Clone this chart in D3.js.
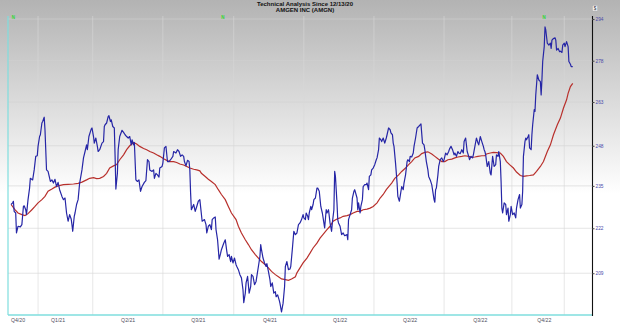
<!DOCTYPE html>
<html>
<head>
<meta charset="utf-8">
<script src="https://d3js.org/d3.v7.min.js"></script>
<style>
body { margin: 0; background: #fff; }
svg { display: block; }
</style>
</head>
<body>
<div id="chart"></div>
<script>
var titleLines = ["Technical Analysis Since 12/13/20", "AMGEN INC (AMGN)"];
var startDate = "2020-12-13";

// daily close, calendar days after 12/13/20
var closeDays = [4,6,7,8,10,11,13,16,18,20,21,23,24,26,28,29,32,34,36,38,39,41,42,44,45,47,48,49,50,52,55,57,59,61,63,65,67,70,72,74,76,78,80,82,83,84,86,87,89,91,93,96,98,100,102,103,105,108,109,111,112,114,116,117,119,122,124,125,126,128,130,131,133,134,136,138,139,140,142,143,145,148,150,152,154,156,158,160,161,163,164,166,168,170,172,174,177,179,181,183,184,187,189,190,192,194,196,197,200,201,203,205,207,209,211,214,215,218,220,222,224,226,228,229,231,233,235,236,237,238,241,243,245,247,249,252,255,257,258,260,262,264,265,267,269,270,272,274,276,277,280,282,284,285,287,289,290,292,294,296,297,299,301,303,305,306,308,309,311,313,315,316,318,320,322,323,325,327,328,329,331,333,335,336,338,340,341,343,345,347,348,350,352,353,355,357,359,360,362,364,366,367,369,371,373,375,377,379,381,383,384,386,387,389,390,391,393,394,396,397,399,401,402,404,406,408,409,411,413,414,416,418,420,421,423,424,425,427,428,429,431,433,435,437,440,441,442,444,446,447,449,450,453,454,455,457,458,460,461,463,465,466,468,469,471,472,474,476,478,479,481,482,484,485,487,489,491,492,494,496,497,499,500,501,503,505,506,508,509,511,513,514,516,518,519,521,522,524,526,527,529,531,533,534,536,538,540,541,543,545,546,548,550,551,553,554,555,556,558,559,561,563,565,566,568,570,572,573,575,577,579,580,582,584,585,587,589,591,592,594,596,598,599,601,603,604,606,608,610,611,613,615,617,618,619,620,622,624,626,627,629,631,633,634,636,637,639,640,641,642,644,646,647,649,650,652,653,655,657,659,660,662,664,665,667,668,669,671,672,673,675,676,677,679,680,681,683,684,685,687,689,691,692,693,694,696,697,698,700,702,704,705,706,708,710,711,712,714,716,717,719,720,722,723,725,727,728,730,731,733];
var closes = [229.2,229.7,230.2,227.1,226.6,220.6,222.6,222.4,223.1,228.6,228.8,227.6,226.1,230.7,234.3,237.4,236.9,240.1,244.5,244.7,247.8,251.1,251.7,255.7,256.2,257.7,253.4,246.7,240.1,239.6,236.4,236.9,235.9,237.1,234.8,236.1,233.8,231.7,230.7,231.2,226.6,224.1,226.1,224.8,223.1,221.1,225.6,226.6,229.2,230.7,235.9,240.1,244.0,246.1,248.3,246.7,251.1,253.6,254.0,251.1,248.9,250.6,247.8,246.1,246.7,248.9,249.4,254.5,255.1,255.7,257.9,258.2,256.2,256.8,254.5,254.0,244.5,234.0,239.0,246.7,251.1,253.2,252.5,251.7,251.1,250.6,251.1,248.3,250.0,248.3,249.1,236.9,236.4,236.9,233.3,234.8,236.1,236.7,243.4,242.8,240.1,239.6,240.1,237.4,239.0,238.5,237.8,240.7,241.2,242.3,247.3,247.8,242.8,242.8,243.4,244.5,246.1,245.6,246.7,246.1,244.5,245.0,244.5,242.8,241.4,243.2,242.8,240.1,232.8,227.6,229.2,227.1,228.6,230.2,230.7,224.1,224.6,223.1,220.6,222.6,223.1,221.6,224.6,225.1,225.4,221.6,218.6,213.0,214.7,215.7,217.6,218.6,215.2,213.8,214.3,212.3,213.8,211.9,213.3,211.4,210.9,210.0,208.6,207.7,204.4,200.9,203.5,206.3,208.1,203.5,205.3,208.6,208.1,205.8,206.7,208.1,210.9,213.8,217.2,215.7,213.3,211.9,210.9,211.7,209.5,207.2,205.3,206.3,203.5,203.9,202.5,203.0,201.6,200.7,198.4,200.7,205.3,210.9,212.3,210.0,210.2,210.9,215.7,221.1,220.1,220.6,223.1,223.6,224.6,226.1,225.1,224.6,226.6,225.6,224.6,226.6,228.6,227.6,229.2,230.7,231.2,234.3,234.3,233.3,228.6,226.6,225.1,222.1,227.6,226.6,227.6,223.6,221.1,223.6,227.6,239.6,238.0,229.7,224.6,223.6,222.6,220.1,220.6,219.8,220.1,218.6,224.6,226.1,227.6,231.2,233.3,233.8,231.2,227.6,229.7,226.6,228.6,230.7,234.8,235.4,235.4,235.9,233.8,238.0,238.5,240.1,240.7,241.8,243.4,244.0,246.7,250.6,250.0,249.4,250.6,248.9,250.6,251.7,254.0,253.4,252.3,251.7,248.9,247.8,242.3,235.9,231.7,230.2,231.7,234.8,233.8,235.9,238.5,242.8,243.4,242.8,244.5,244.3,245.6,247.8,250.6,254.0,254.5,254.8,255.4,248.9,248.3,246.7,242.8,240.1,238.0,236.9,235.4,233.8,230.7,229.9,233.8,234.3,238.5,241.2,243.4,244.0,242.8,243.4,245.6,245.0,246.1,246.9,247.8,246.7,245.0,245.6,244.5,246.1,245.6,245.4,246.7,245.6,249.4,250.6,246.1,244.5,243.4,244.5,244.0,245.0,247.8,250.6,248.9,248.3,251.1,249.4,247.8,246.7,246.1,245.0,241.2,242.8,239.0,238.5,244.5,241.2,241.8,245.0,244.5,246.1,242.8,236.4,228.1,226.6,229.7,229.2,226.1,228.1,224.1,226.1,228.6,226.1,226.6,225.1,228.1,230.7,232.3,228.1,229.2,233.3,244.5,249.4,250.6,250.0,251.1,251.7,247.3,246.7,251.7,255.1,260.3,259.7,265.5,272.8,270.9,270.3,265.5,270.9,277.7,283.3,290.9,289.7,284.6,283.9,284.6,282.6,285.8,286.4,286.7,285.8,282.0,282.6,281.4,281.6,281.1,283.9,284.6,283.3,285.2,283.3,277.7,276.7,275.8,275.8];

// moving average
var maDays = [4,9,13,18,22,26,31,35,39,44,48,52,57,61,65,72,78,85,91,96,102,106,111,115,119,124,128,132,137,141,145,150,154,158,163,167,171,176,180,184,189,193,197,202,206,210,215,219,223,228,232,236,241,245,249,251,256,260,264,269,273,277,282,286,290,296,299,303,308,312,316,321,325,329,334,338,342,347,351,355,360,364,368,373,375,379,383,388,392,396,401,405,409,414,418,422,427,431,435,440,444,448,453,457,461,466,470,474,479,483,487,491,495,498,502,507,511,516,520,524,528,533,537,541,545,550,554,558,563,567,571,576,580,584,589,593,598,602,606,610,615,619,621,626,630,634,639,643,647,651,656,660,665,669,673,677,682,686,691,695,700,704,708,713,717,721,725,727,730,733];
var maValues = [229.2,227.6,226.6,226.1,225.8,226.4,227.6,228.6,229.7,230.7,231.7,233.3,234.0,234.6,235.0,235.4,235.5,235.6,235.8,236.2,236.9,237.4,237.6,237.3,237.4,238.0,239.0,240.7,241.4,241.8,243.4,245.0,246.7,248.0,249.1,248.6,247.8,247.1,246.7,246.1,245.6,245.0,244.5,243.7,243.2,242.8,242.8,242.5,242.0,241.7,241.2,240.7,240.3,240.1,239.8,239.0,238.0,237.1,236.4,235.4,233.8,232.3,230.7,228.6,226.6,224.6,222.6,220.6,218.6,217.2,215.7,214.3,213.3,212.3,211.4,210.5,209.5,208.6,208.0,207.4,207.2,207.0,207.4,208.0,209.1,210.5,211.9,213.3,214.7,216.2,217.6,219.1,220.2,221.6,222.6,224.1,224.8,225.1,225.6,225.8,226.1,226.6,227.1,227.1,227.6,227.8,228.1,228.6,229.7,231.2,232.3,233.8,235.0,235.9,237.4,238.5,239.6,240.7,241.8,242.8,244.0,244.5,245.4,245.8,246.0,245.3,244.5,243.7,242.8,242.8,243.4,243.6,244.0,244.3,244.5,244.7,244.5,244.2,244.3,244.5,244.7,244.7,245.3,245.6,245.8,245.7,245.6,244.5,242.8,241.8,240.7,239.4,238.3,238.0,238.2,238.3,238.5,239.6,241.2,242.8,246.1,248.3,251.7,255.1,257.4,260.9,263.8,266.1,268.5,269.7];

var priceTicks = [209, 222, 235, 248, 263, 278, 294];
var quarterLabels = ["Q4/20", "Q1/21", "Q2/21", "Q3/21", "Q4/21", "Q1/22", "Q2/22", "Q3/22", "Q4/22"];
var quarterLabelDays = [13, 65, 156, 247, 340, 431, 522, 613, 696];
var gridDays = [39, 110, 201, 293, 384, 475, 566, 654, 722];
var newsDays = [7, 279, 696];

function makeChart(div, width, height) {
    var svg = d3.select(div).append("svg").attr("width", width).attr("height", height);
    var start = new Date(startDate + "T00:00:00Z");
    var day = function(d) { return d3.utcDay.offset(start, d); };

    var left = 8, right = 592, top = 16, bottom = 315;
    var x = d3.scaleUtc().domain([start, day(758)]).range([left, right]);
    var y = d3.scaleLog().domain([197.6, 295.2]).range([bottom, top]);

    // grey to white background
    var grad = svg.append("defs").append("linearGradient")
        .attr("id", "bg").attr("x1", 0).attr("y1", 0).attr("x2", 0).attr("y2", 1);
    grad.append("stop").attr("offset", "0").attr("stop-color", "#b3b3b3");
    grad.append("stop").attr("offset", "0.6").attr("stop-color", "#ffffff");
    svg.append("rect").attr("width", width).attr("height", height).attr("fill", "url(#bg)");

    // title
    svg.append("g").selectAll("text")
        .data(titleLines)
        .enter().append("text")
        .attr("x", 305)
        .attr("y", function(d, i) { return 5.5 + i * 6.8; })
        .attr("text-anchor", "middle")
        .attr("font-family", "Liberation Sans, Arial, sans-serif")
        .attr("font-weight", "bold")
        .attr("font-size", 6)
        .attr("fill", "#111")
        .text(function(d) { return d; });

    // grid
    svg.append("g").selectAll("line")
        .data(priceTicks)
        .enter().append("line")
        .attr("x1", left).attr("x2", right)
        .attr("y1", function(d) { return y(d); })
        .attr("y2", function(d) { return y(d); })
        .attr("stroke", "#d2d2d2")
        .attr("stroke-width", 0.6);

    svg.append("g").selectAll("line")
        .data(gridDays)
        .enter().append("line")
        .attr("x1", function(d) { return x(day(d)); })
        .attr("x2", function(d) { return x(day(d)); })
        .attr("y1", top).attr("y2", bottom)
        .attr("stroke", "#d6d6d6")
        .attr("stroke-width", 0.6);

    // frame
    svg.append("line").attr("x1", left).attr("x2", left).attr("y1", top).attr("y2", bottom)
        .attr("stroke", "#7fdede").attr("stroke-width", 1.2);
    svg.append("line").attr("x1", left).attr("x2", right).attr("y1", bottom).attr("y2", bottom)
        .attr("stroke", "#7fdede").attr("stroke-width", 1.5);

    // price axis on the right
    var axis = svg.append("g")
        .attr("transform", "translate(" + right + ",0)")
        .call(d3.axisRight(y).tickValues(priceTicks).tickSize(2.5).tickSizeOuter(0)
            .tickFormat(d3.format("d")));
    axis.select(".domain").attr("stroke", "#111").attr("stroke-width", 1.1)
        .attr("d", "M0.5," + top + "V" + (bottom + 1));
    axis.selectAll(".tick line").attr("stroke", "#444");
    axis.selectAll(".tick text")
        .attr("x", 3.5)
        .attr("font-family", "Liberation Sans, Arial, sans-serif")
        .attr("font-size", 4.8)
        .attr("fill", "#4a4aa8");

    // $ box
    svg.append("rect").attr("x", 592.5).attr("y", 5.5).attr("width", 5).attr("height", 5.5)
        .attr("fill", "#f2f2f2").attr("stroke", "#aaa").attr("stroke-width", 0.4);
    svg.append("text").attr("x", 595).attr("y", 9.9).attr("text-anchor", "middle")
        .attr("font-family", "Liberation Sans, Arial, sans-serif")
        .attr("font-size", 4.5).attr("fill", "#334").text("$");

    // quarter labels
    svg.append("g").selectAll("text")
        .data(quarterLabels)
        .enter().append("text")
        .attr("x", function(d, i) { return x(day(quarterLabelDays[i])); })
        .attr("y", 322)
        .attr("text-anchor", "middle")
        .attr("font-family", "Liberation Sans, Arial, sans-serif")
        .attr("font-size", 5.2)
        .attr("fill", "#505060")
        .text(function(d) { return d; });

    // news markers
    svg.append("g").selectAll("text")
        .data(newsDays)
        .enter().append("text")
        .attr("x", function(d) { return x(day(d)); })
        .attr("y", 19)
        .attr("text-anchor", "middle")
        .attr("font-family", "Liberation Sans, Arial, sans-serif")
        .attr("font-weight", "bold")
        .attr("font-size", 4.5)
        .attr("fill", "#2fd82f")
        .text("N");

    var ma = maDays.map(function(d, i) { return { date: day(d), v: maValues[i] }; });
    var price = closeDays.map(function(d, i) { return { date: day(d), v: closes[i] }; });
    var line = d3.line()
        .x(function(d) { return x(d.date); })
        .y(function(d) { return y(d.v); });

    svg.append("path").datum(ma)
        .attr("d", line)
        .attr("fill", "none")
        .attr("stroke", "#b8302c")
        .attr("stroke-width", 1.2);

    svg.append("path").datum(price)
        .attr("d", line)
        .attr("fill", "none")
        .attr("stroke", "#2626a6")
        .attr("stroke-width", 1.2)
        .attr("stroke-linejoin", "round");

    return;
}

makeChart("#chart", 620, 323);
</script>
</body>
</html>
